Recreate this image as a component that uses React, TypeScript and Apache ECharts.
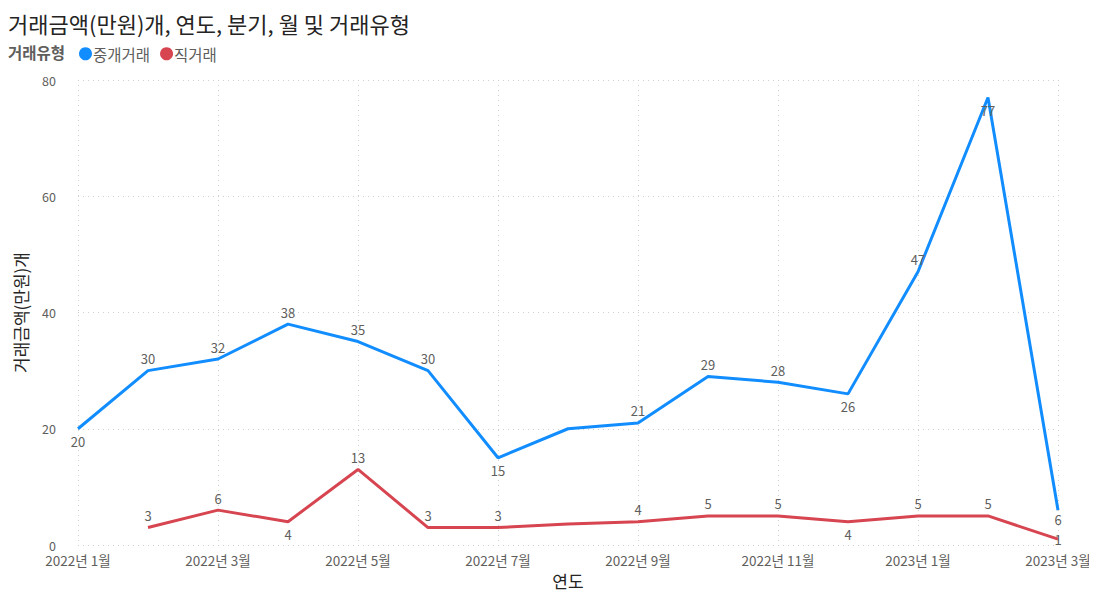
import React, { useEffect, useRef } from "react";
import * as echarts from "echarts";

const months = [
  "2022년 1월", "2022년 2월", "2022년 3월", "2022년 4월", "2022년 5월",
  "2022년 6월", "2022년 7월", "2022년 8월", "2022년 9월", "2022년 10월",
  "2022년 11월", "2022년 12월", "2023년 1월", "2023년 2월", "2023년 3월",
];
const brokered = [20, 30, 32, 38, 35, 30, 15, 20, 21, 29, 28, 26, 47, 77, 6];
const direct: (number | null)[] = [null, 3, 6, 4, 13, 3, 3, 3.6, 4, 5, 5, 4, 5, 5, 1];
const yTicks = { min: 0, max: 80, interval: 20 };

// label placement (style only): position and gap from the line
const brokeredLabelPos = ["bottom", "top", "top", "top", "top", "top", "bottom", "none", "top", "top", "top", "bottom", "top", "bottom", "bottom"];
const brokeredLabelGap = [6, 5, 5, 5, 5, 5, 6, 0, 5, 5, 5, 6, 5, 6, 2];
const directLabelPos = ["none", "top", "top", "bottom", "top", "top", "top", "none", "top", "top", "top", "bottom", "top", "top", "inside"];
const directLabelGap = [0, 5, 5, 6, 5, 5, 5, 0, 5, 5, 5, 6, 5, 5, 0];

const FONT = "'Noto Sans CJK KR', 'Noto Sans', sans-serif";

function withLabels(values: (number | null)[], pos: string[], gap: number[]) {
  return values.map((v, i) => ({
    value: v,
    label:
      pos[i] === "none" || v === null
        ? { show: false }
        : { show: true, position: pos[i], distance: gap[i] },
  }));
}

export default function App() {
  const ref = useRef<HTMLDivElement>(null);
  useEffect(() => {
    if (!ref.current) return;
    const chart = echarts.init(ref.current, undefined, { renderer: "svg" });
    const gridColor = "#cfcfcf";
    chart.setOption({
      animation: false,
      textStyle: { fontFamily: FONT },
      title: {
        text: "거래금액(만원)개, 연도, 분기, 월 및 거래유형",
        left: 0,
        top: 3,
        padding: 0,
        textStyle: { fontFamily: FONT, fontSize: 22, fontWeight: "normal", color: "#252423", lineHeight: 24 },
      },
      graphic: [
        {
          type: "text",
          left: 0,
          top: 36,
          style: { text: "거래유형", font: `bold 15.5px ${FONT}`, fill: "#605E5C" },
        },
      ],
      legend: {
        left: 71,
        top: 38,
        padding: 0,
        itemWidth: 13,
        itemHeight: 13,
        itemGap: 10,
        icon: "circle",
        textStyle: { fontFamily: FONT, fontSize: 15.5, color: "#605E5C", padding: [0, 0, 0, -4] },
        data: ["중개거래", "직거래"],
      },
      grid: { left: 70, right: 39, top: 72, bottom: 46, outerBoundsMode: "none", containLabel: false },
      xAxis: {
        type: "category",
        data: months,
        boundaryGap: false,
        name: "연도",
        nameLocation: "middle",
        nameGap: 20,
        nameTextStyle: { fontFamily: FONT, fontSize: 17, color: "#252423" },
        axisLine: { show: false },
        axisTick: { show: false },
        axisLabel: {
          interval: 1,
          fontFamily: FONT,
          fontSize: 13.5,
          lineHeight: 15,
          color: "#605E5C",
          margin: 7,
        },
        splitLine: {
          show: true,
          interval: (i: number) => i % 2 === 0,
          lineStyle: { color: gridColor, type: [1, 4], width: 1 },
        },
      },
      yAxis: {
        type: "value",
        min: yTicks.min,
        max: yTicks.max,
        interval: yTicks.interval,
        name: "거래금액(만원)개",
        nameLocation: "middle",
        nameGap: 49,
        nameTextStyle: { fontFamily: FONT, fontSize: 17, color: "#252423" },
        axisLine: { show: false },
        axisTick: { show: false },
        axisLabel: { fontFamily: FONT, fontSize: 12.5, lineHeight: 12, color: "#605E5C", margin: 22 },
        splitLine: { show: true, lineStyle: { color: gridColor, type: [1, 4], width: 1 } },
      },
      series: [
        {
          name: "중개거래",
          type: "line",
          data: withLabels(brokered, brokeredLabelPos, brokeredLabelGap),
          showSymbol: true,
          symbol: "circle",
          symbolSize: 0,
          color: "#118DFF",
          lineStyle: { width: 3, color: "#118DFF" },
          label: { fontFamily: FONT, fontSize: 13, lineHeight: 14, color: "#605E5C" },
          labelLayout: { hideOverlap: false },
          z: 3,
        },
        {
          name: "직거래",
          type: "line",
          data: withLabels(direct, directLabelPos, directLabelGap),
          showSymbol: true,
          symbol: "circle",
          symbolSize: 0,
          color: "#D64550",
          lineStyle: { width: 3, color: "#D64550" },
          label: { fontFamily: FONT, fontSize: 13, lineHeight: 14, color: "#605E5C" },
          z: 2,
        },
      ],
    });
    return () => chart.dispose();
  }, []);
  return <div ref={ref} style={{ width: 1089, height: 583 }} />;
}
